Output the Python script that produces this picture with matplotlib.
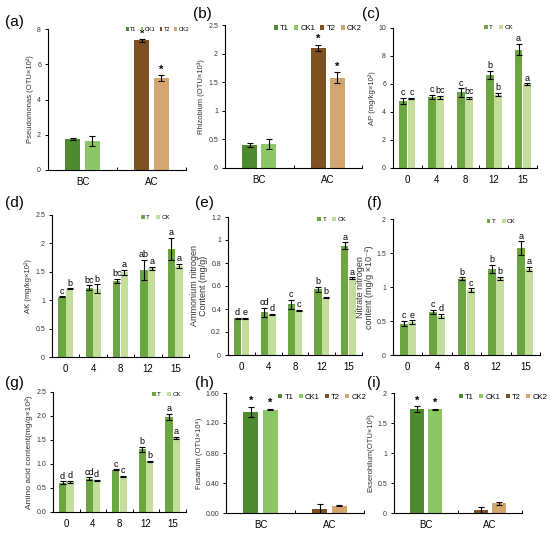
import matplotlib
matplotlib.use("Agg")
import matplotlib.pyplot as plt
import numpy as np

plt.rcParams['font.family'] = ['Liberation Sans', 'DejaVu Sans']

# colours
c_t1, c_ck1, c_t2, c_ck2 = '#4e8a2e', '#8cc765', '#7d5122', '#d4a66f'
c_t, c_ck = '#6ca641', '#c3de9c'

groups = ['BC', 'AC']
days = ['0', '4', '8', '12', '15']

# (a) Pseudomonas
pse_val = [1.75, 1.65, 7.35, 5.22]
pse_err = [0.05, 0.28, 0.06, 0.15]
# (b) Rhizobium
rhi_val = [0.40, 0.42, 2.10, 1.58]
rhi_err = [0.03, 0.08, 0.05, 0.09]
# (h) Fusarium
fus_val = [1.35, 1.38, 0.05, 0.10]
fus_err = [0.07, 0.01, 0.07, 0.01]
# (i) Exserohilum
exs_val = [1.73, 1.73, 0.05, 0.16]
exs_err = [0.05, 0.01, 0.05, 0.02]

# (c) AP
ap_t = [4.80, 5.10, 5.40, 6.65, 8.45]
ap_t_err = [0.20, 0.15, 0.30, 0.30, 0.40]
ap_ck = [4.95, 5.05, 5.00, 5.25, 6.00]
ap_ck_err = [0.05, 0.10, 0.08, 0.10, 0.05]
ap_t_let = ['c', 'c', 'c', 'b', 'a']
ap_ck_let = ['c', 'bc', 'bc', 'b', 'a']
# (d) AK
ak_t = [1.06, 1.22, 1.34, 1.53, 1.90]
ak_t_err = [0.01, 0.04, 0.03, 0.18, 0.20]
ak_ck = [1.20, 1.20, 1.49, 1.56, 1.60]
ak_ck_err = [0.01, 0.08, 0.04, 0.03, 0.04]
ak_t_let = ['c', 'bc', 'bc', 'ab', 'a']
ak_ck_let = ['b', 'b', 'a', 'a', 'a']
# (e) ammonium nitrogen
am_t = [0.32, 0.37, 0.44, 0.57, 0.95]
am_t_err = [0.005, 0.04, 0.04, 0.02, 0.03]
am_ck = [0.32, 0.35, 0.39, 0.50, 0.67]
am_ck_err = [0.005, 0.005, 0.005, 0.003, 0.005]
am_t_let = ['d', 'cd', 'c', 'b', 'a']
am_ck_let = ['e', 'd', 'c', 'b', 'a']
# (f) nitrate nitrogen
ni_t = [0.46, 0.63, 1.12, 1.27, 1.57]
ni_t_err = [0.04, 0.03, 0.02, 0.06, 0.10]
ni_ck = [0.48, 0.58, 0.95, 1.13, 1.27]
ni_ck_err = [0.03, 0.03, 0.03, 0.02, 0.03]
ni_t_let = ['c', 'c', 'b', 'b', 'a']
ni_ck_let = ['e', 'd', 'c', 'b', 'a']
# (g) amino acid
aa_t = [0.61, 0.69, 0.88, 1.31, 1.98]
aa_t_err = [0.03, 0.03, 0.01, 0.05, 0.07]
aa_ck = [0.63, 0.66, 0.74, 1.06, 1.55]
aa_ck_err = [0.02, 0.01, 0.02, 0.01, 0.02]
aa_t_let = ['d', 'cd', 'c', 'b', 'a']
aa_ck_let = ['d', 'd', 'c', 'b', 'a']

W, H = 550, 535
fig = plt.figure(figsize=(W / 100, H / 100), dpi=100)


def new_ax(l, r, t, b):
    return fig.add_axes([l / W, 1 - b / H, (r - l) / W, (b - t) / H])


def style(ax, n, labels, ymax, step, fmt, ylabel, ylfs=5.5):
    for s in ['top', 'right']:
        ax.spines[s].set_visible(False)
    for s in ['left', 'bottom']:
        ax.spines[s].set_linewidth(0.8)
    ax.set_xlim(-0.5, n - 0.5)
    ax.set_ylim(0, ymax)
    yt = np.arange(0, ymax + step / 2, step)
    ax.set_yticks(yt)
    ax.set_yticklabels([fmt % v for v in yt], fontsize=5, color='#333333')
    ax.tick_params(axis='y', length=2, width=0.7, pad=3)
    ax.set_xticks(range(n))
    ax.set_xticklabels(labels, fontsize=7)
    ax.set_xticks(np.arange(-0.5, n), minor=True)
    ax.tick_params(axis='x', which='major', length=0, pad=5)
    ax.tick_params(axis='x', which='minor', direction='in', length=2.5, width=0.7)
    ax.set_ylabel(ylabel, fontsize=ylfs, color='#333333', labelpad=2,
                  linespacing=1.0)


def pair_panel(ax, vals, errs, stars_on, lfs, lbox):
    x = np.arange(2)
    off = 0.14
    w = 0.22
    cols = [c_t1, c_ck1, c_t2, c_ck2]
    names = ['T1', 'CK1', 'T2', 'CK2']
    pos = [x[0] - off, x[0] + off, x[1] - off, x[1] + off]
    for p, v, e, c, nm in zip(pos, vals, errs, cols, names):
        ax.bar(p, v, w, color=c, label=nm)
        ax.errorbar(p, v, yerr=e, fmt='none', ecolor='black', elinewidth=0.8,
                    capsize=2, capthick=0.8)
    top = ax.get_ylim()[1]
    for i in stars_on:
        for j in (0, 1):
            k = 2 * i + j
            ax.text(pos[k], vals[k] + errs[k] + top * 0.005, '*', ha='center',
                    va='bottom', fontsize=8, fontweight='bold')
    ax.legend(ncol=4, loc='upper right', bbox_to_anchor=lbox, frameon=False,
              fontsize=lfs, handlelength=0.5, handleheight=0.5,
              handletextpad=0.3, columnspacing=0.7, borderaxespad=0)


def day_panel(ax, tv, te, cv, ce, tl, cl, lbox):
    x = np.arange(5)
    off = 0.14
    w = 0.27
    ax.bar(x - off, tv, w, color=c_t, label='T')
    ax.bar(x + off, cv, w, color=c_ck, label='CK')
    ax.errorbar(x - off, tv, yerr=te, fmt='none', ecolor='black', elinewidth=0.8,
                capsize=2, capthick=0.8)
    ax.errorbar(x + off, cv, yerr=ce, fmt='none', ecolor='black', elinewidth=0.8,
                capsize=2, capthick=0.8)
    top = ax.get_ylim()[1]
    for i in range(5):
        ax.text(x[i] - off, tv[i] + te[i] + top * 0.005, tl[i], ha='center',
                va='bottom', fontsize=6.5)
        ax.text(x[i] + off, cv[i] + ce[i] + top * 0.005, cl[i], ha='center',
                va='bottom', fontsize=6.5)
    ax.legend(ncol=2, loc='upper right', bbox_to_anchor=lbox, frameon=False,
              fontsize=4.5, handlelength=0.6, handleheight=0.6,
              handletextpad=0.2, columnspacing=1.0, borderaxespad=0)


# (a)
ax = new_ax(48, 186, 29, 170)
style(ax, 2, groups, 8, 2, '%g', 'Pseudomonas (OTU×10²)')
pair_panel(ax, pse_val, pse_err, [1], 4, (1.04, 1.03))
# (b)
ax = new_ax(225, 362, 25, 168)
style(ax, 2, groups, 2.5, 0.5, '%g', 'Rhizobium (OTU×10³)')
pair_panel(ax, rhi_val, rhi_err, [1], 5.5, (1.02, 1.02))
# (c)
ax = new_ax(393, 537, 28, 168)
style(ax, 5, days, 10, 2, '%g', 'AP (mg/kg×10²)')
day_panel(ax, ap_t, ap_t_err, ap_ck, ap_ck_err, ap_t_let, ap_ck_let, (0.85, 1.04))
# (d)
ax = new_ax(52, 189, 215, 357)
style(ax, 5, days, 2.5, 0.5, '%g', 'AK (mg/kg×10²)')
day_panel(ax, ak_t, ak_t_err, ak_ck, ak_ck_err, ak_t_let, ak_ck_let, (0.88, 1.02))
# (e)
ax = new_ax(228, 362, 217, 355)
style(ax, 5, days, 1.2, 0.2, '%g', 'Ammonium nitrogen\nContent (mg/g)', ylfs=6.5)
day_panel(ax, am_t, am_t_err, am_ck, am_ck_err, am_t_let, am_ck_let, (0.90, 1.02))
# (f)
ax = new_ax(393, 540, 219, 355)
style(ax, 5, days, 2, 0.5, '%g', 'Nitrate nitrogen\ncontent (mg/g ×10⁻²)', ylfs=6.5)
day_panel(ax, ni_t, ni_t_err, ni_ck, ni_ck_err, ni_t_let, ni_ck_let, (0.85, 1.02))
# (g)
ax = new_ax(53, 186, 392, 512)
style(ax, 5, days, 2.5, 0.5, '%.1f', 'Amino acid content(mg/g×10²)', ylfs=6)
day_panel(ax, aa_t, aa_t_err, aa_ck, aa_ck_err, aa_t_let, aa_ck_let, (0.98, 1.02))
# (h)
ax = new_ax(226, 364, 393, 513)
style(ax, 2, groups, 1.6, 0.4, '%.2f', 'Fusarium (OTU×10⁴)')
pair_panel(ax, fus_val, fus_err, [0], 5.5, (1.04, 1.02))
# (i)
ax = new_ax(394, 522, 393, 513)
style(ax, 2, groups, 2, 0.5, '%g', 'Exserohilum(OTU×10³)')
pair_panel(ax, exs_val, exs_err, [0], 5.5, (1.22, 1.02))

# panel letters
for lab, px, py in [('(a)', 5, 22), ('(b)', 193, 14), ('(c)', 362, 14),
                    ('(d)', 5, 203), ('(e)', 195, 203), ('(f)', 367, 203),
                    ('(g)', 5, 383), ('(h)', 195, 383), ('(i)', 367, 383)]:
    fig.text(px / W, 1 - py / H, lab, fontsize=11, va='center', ha='left')

fig.savefig('out.png', dpi=100)
